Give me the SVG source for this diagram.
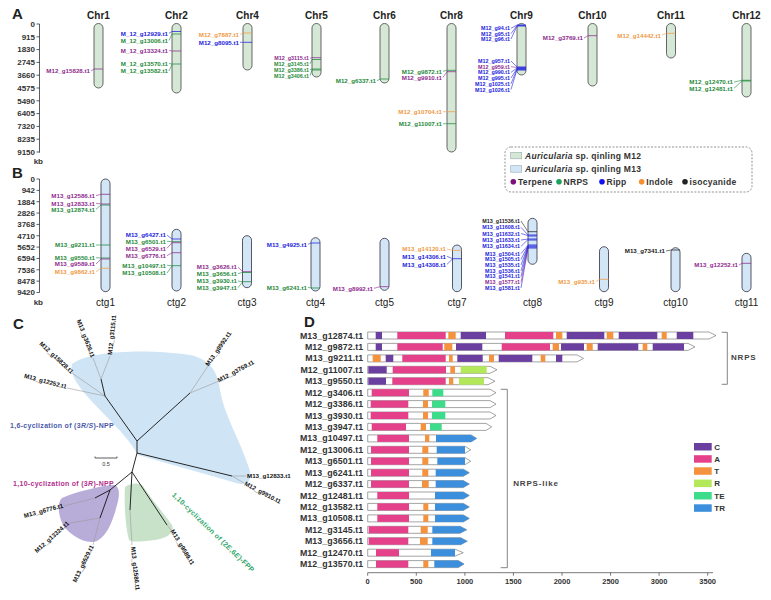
<svg xmlns="http://www.w3.org/2000/svg" width="771" height="600" viewBox="0 0 771 600">
<style>
text{font-family:"Liberation Sans",Arial,sans-serif}
.pl{font-size:15px;font-weight:bold;fill:#222}
.ct{font-size:10px;font-weight:bold;fill:#222;text-anchor:middle}
.cc{font-size:10px;fill:#222;text-anchor:middle}
.ax{font-size:8px;font-weight:bold;fill:#333;text-anchor:end}
.g{font-size:6.2px;font-weight:bold;text-anchor:end}
.gs{font-size:5.4px}
.cg{fill:#d5e8d6;stroke:#555;stroke-width:0.9}
.cb{fill:#d3e6f6;stroke:#445;stroke-width:0.9}
.cT{fill:#8e2a8e}.cN{fill:#1f8a3a}.cR{fill:#2323dd}.cI{fill:#f09a45}.cK{fill:#222}
.sT{stroke:#8e2a8e}.sN{stroke:#1f8a3a}.sR{stroke:#2323dd}.sI{stroke:#f09a45}.sK{stroke:#222}
.ld{stroke-width:0.6;fill:none}
.bd{stroke-width:0.9;fill:none;opacity:0.85}
.axl{stroke:#333;stroke-width:0.8;fill:none}
.lg{font-size:8.5px;font-weight:bold;fill:#333;letter-spacing:0.3px}
.tl{font-size:6.2px;font-weight:bold;fill:#111}
.br{stroke:#111;stroke-width:0.9;fill:none}
.lf{stroke:#9a9a9a;stroke-width:0.6;fill:none}
.dl{font-size:8.8px;font-weight:bold;fill:#333;text-anchor:end;letter-spacing:0.1px}
.ob{fill:#fff;stroke:#666;stroke-width:0.6}
.C{fill:#6b3fa0}.A{fill:#e5418b}.T{fill:#f5923d}.R{fill:#b3e85a}.E{fill:#3ddc8b}.TR{fill:#3b8fdc}
.dt{font-size:8px;font-weight:bold;fill:#333}
</style>

<!-- ================= Panel A ================= -->
<text class="pl" x="12" y="19">A</text>
<g id="axisA">
<path class="axl" d="M39.5 24V152.7M36.5 24H39.5M36.5 36.8H39.5M36.5 49.6H39.5M36.5 62.4H39.5M36.5 75.2H39.5M36.5 88H39.5M36.5 100.8H39.5M36.5 113.6H39.5M36.5 126.4H39.5M36.5 139.2H39.5M36.5 152H39.5"/>
<text class="ax" x="35" y="26.8">0</text>
<text class="ax" x="35" y="39.6">915</text>
<text class="ax" x="35" y="52.4">1830</text>
<text class="ax" x="35" y="65.2">2745</text>
<text class="ax" x="35" y="78">3660</text>
<text class="ax" x="35" y="90.8">4575</text>
<text class="ax" x="35" y="103.6">5490</text>
<text class="ax" x="35" y="116.4">6405</text>
<text class="ax" x="35" y="129.2">7320</text>
<text class="ax" x="35" y="142">8235</text>
<text class="ax" x="35" y="154.8">9150</text>
<text class="ax" x="43" y="164">kb</text>
</g>

<g id="chr1"><text class="ct" x="98.5" y="19">Chr1</text><rect class="cg" x="94" y="23.5" width="9" height="64.5" rx="4.5"/>
<path class="bd sT" d="M94 69h9"/><path class="ld sT" d="M91 71L94 69"/><text class="g cT" x="90" y="73.2">M12_g15828.t1</text></g>

<g id="chr2"><text class="ct" x="176.5" y="19">Chr2</text><rect class="cg" x="172" y="23.5" width="9" height="69.5" rx="4.5"/>
<path class="bd sR" d="M172 31.5h9"/><path class="bd sN" d="M172 34h9"/><path class="bd sT" d="M172 51h9"/><path class="bd sN" d="M172 64h9"/>
<path class="ld sR" d="M169 33.3L172 31.5"/><path class="ld sN" d="M169 40.5L172 34"/><path class="ld sT" d="M169 50.5L172 51"/><path class="ld sN" d="M169 63.5L172 64"/><path class="ld sN" d="M169 71L172 64.5"/>
<text class="g cR" x="168" y="35.5">M_12_g12929.t1</text>
<text class="g cN" x="168" y="42.7">M_12_g13006.t1</text>
<text class="g cT" x="168" y="52.7">M_12_g13324.t1</text>
<text class="g cN" x="168" y="65.7">M_12_g13570.t1</text>
<text class="g cN" x="168" y="73.2">M_12_g13582.t1</text></g>

<g id="chr4"><text class="ct" x="247.5" y="19">Chr4</text><rect class="cg" x="243" y="23.5" width="9" height="46.5" rx="4.5"/>
<path class="bd sI" d="M243 33h9"/><path class="bd sR" d="M243 42.3h9"/>
<path class="ld sI" d="M240 34.5L243 33"/><path class="ld sR" d="M240 42.3L243 42.3"/>
<text class="g cI" x="239" y="36.7">M12_g7887.t1</text>
<text class="g cR" x="239" y="44.5">M12_g8095.t1</text></g>

<g id="chr5"><text class="ct" x="316.5" y="19">Chr5</text><rect class="cg" x="312" y="23.5" width="9" height="53.5" rx="4.5"/>
<path class="bd sT" d="M312 57.7h9"/><path class="bd sN" d="M312 59.5h9"/><path class="bd sN" d="M312 69h9"/><path class="bd sN" d="M312 70h9"/>
<path class="ld sT" d="M310 58.3L312 57.7"/><path class="ld sN" d="M310 63.9L312 59.5"/><path class="ld sN" d="M310 69.7L312 69"/><path class="ld sN" d="M310 75.7L312 70"/>
<text class="g gs cT" x="309" y="60">M12_g3115.t1</text>
<text class="g gs cN" x="309" y="65.8">M12_g3145.t1</text>
<text class="g gs cN" x="309" y="71.6">M12_g3386.t1</text>
<text class="g gs cN" x="309" y="77.6">M12_g3406.t1</text></g>

<g id="chr6"><text class="ct" x="384.5" y="19">Chr6</text><rect class="cg" x="380" y="23.5" width="9" height="59.5" rx="4.5"/>
<path class="bd sN" d="M380 79h9"/><path class="ld sN" d="M377 80.7L380 79"/>
<text class="g cN" x="376" y="82.9">M12_g6337.t1</text></g>

<g id="chr8"><text class="ct" x="451.5" y="19">Chr8</text><rect class="cg" x="447" y="23.5" width="9" height="128.5" rx="4.5"/>
<path class="bd sN" d="M447 70.3h9"/><path class="bd sT" d="M447 71.7h9"/><path class="bd sI" d="M447 111.7h9"/><path class="bd sN" d="M447 123.7h9"/>
<path class="ld sN" d="M443 71.3L447 70.3"/><path class="ld sT" d="M443 77.3L447 71.7"/><path class="ld sI" d="M443 111.7L447 111.7"/><path class="ld sN" d="M443 123.7L447 123.7"/>
<text class="g cN" x="442" y="73.5">M12_g9872.t1</text>
<text class="g cT" x="442" y="79.5">M12_g9910.t1</text>
<text class="g cI" x="442" y="113.9">M12_g10704.t1</text>
<text class="g cN" x="442" y="125.9">M12_g11007.t1</text></g>

<g id="chr9"><text class="ct" x="521.5" y="19">Chr9</text><rect class="cg" x="517" y="23.5" width="9" height="51.5" rx="4.5"/>
<path class="bd sR" d="M517 25h9M517 26h9M517 67h9M517 68h9M517 69h9M517 70h9" style="stroke-width:1.2"/>
<path class="ld sR" d="M511 28.3L517 25M511 33.7L517 25.5M511 39L517 26M511 61L517 67M511 72.4L517 68M511 78L517 68.5M511 83.8L517 69M511 89.5L517 69.5"/>
<path class="ld sT" d="M511 66.7L517 67.5"/>
<text class="g gs cR" x="510" y="30.2">M12_g94.t1</text>
<text class="g gs cR" x="510" y="35.6">M12_g95.t1</text>
<text class="g gs cR" x="510" y="41">M12_g96.t1</text>
<text class="g gs cR" x="510" y="63">M12_g957.t1</text>
<text class="g gs cT" x="510" y="68.7">M12_g959.t1</text>
<text class="g gs cR" x="510" y="74.4">M12_g990.t1</text>
<text class="g gs cR" x="510" y="80.1">M12_g995.t1</text>
<text class="g gs cR" x="510" y="85.8">M12_g1025.t1</text>
<text class="g gs cR" x="510" y="91.5">M12_g1026.t1</text></g>

<g id="chr10"><text class="ct" x="592.5" y="19">Chr10</text><rect class="cg" x="588" y="23.5" width="9" height="62.5" rx="4.5"/>
<path class="bd sT" d="M588 35.7h9"/><path class="ld sT" d="M584 38L588 35.7"/>
<text class="g cT" x="583" y="40.2">M12_g3769.t1</text></g>

<g id="chr11"><text class="ct" x="671" y="19">Chr11</text><rect class="cg" x="666.5" y="23.5" width="9" height="34.5" rx="4.5"/>
<path class="bd sI" d="M666.5 33.3h9"/><path class="ld sI" d="M662 35L666.5 33.3"/>
<text class="g cI" x="661" y="37.5">M12_g14442.t1</text></g>

<g id="chr12"><text class="ct" x="746.5" y="19">Chr12</text><rect class="cg" x="742" y="23.5" width="9" height="73.5" rx="4.5"/>
<path class="bd sN" d="M742 80.3h9"/><path class="bd sN" d="M742 81h9"/>
<path class="ld sN" d="M734 82L742 80.3M734 88.3L742 81"/>
<text class="g cN" x="733" y="84.2">M12_g12470.t1</text>
<text class="g cN" x="733" y="90.5">M12_g12481.t1</text></g>

<!-- legend -->
<g id="legendAB">
<rect x="505" y="147" width="247" height="45" rx="6" fill="#fff" stroke="#777" stroke-width="0.8" stroke-dasharray="2 1.5"/>
<rect x="510.7" y="152.3" width="11" height="6.5" fill="#d5e8d6" stroke="#9aa" stroke-width="0.6"/>
<text class="lg" x="525" y="158.7"><tspan font-style="italic">Auricularia</tspan> sp. qinling M12</text>
<rect x="510.7" y="165.7" width="11" height="6.5" fill="#d3e6f6" stroke="#9ab" stroke-width="0.6"/>
<text class="lg" x="525" y="172"><tspan font-style="italic">Auricularia</tspan> sp. qinling M13</text>
<circle cx="513.3" cy="181.7" r="2.8" fill="#7b0f7b"/><text class="lg" x="518" y="184.7">Terpene</text>
<circle cx="559" cy="181.7" r="2.8" fill="#1aa060"/><text class="lg" x="563.5" y="184.7">NRPS</text>
<circle cx="602" cy="181.7" r="2.8" fill="#1010f0"/><text class="lg" x="606.5" y="184.7">Ripp</text>
<circle cx="641.7" cy="181.7" r="2.8" fill="#f59031"/><text class="lg" x="646.3" y="184.7">Indole</text>
<circle cx="685" cy="181.7" r="2.8" fill="#222"/><text class="lg" x="689.5" y="184.7">isocyanide</text>
</g>

<!-- ================= Panel B ================= -->
<text class="pl" x="12" y="178">B</text>
<g id="axisB">
<path class="axl" d="M39.5 179V292.5M36.5 179H39.5M36.5 190.35H39.5M36.5 201.7H39.5M36.5 213.05H39.5M36.5 224.4H39.5M36.5 235.75H39.5M36.5 247.1H39.5M36.5 258.45H39.5M36.5 269.8H39.5M36.5 281.15H39.5M36.5 292.5H39.5"/>
<text class="ax" x="35" y="181.8">0</text>
<text class="ax" x="35" y="193.15">942</text>
<text class="ax" x="35" y="204.5">1884</text>
<text class="ax" x="35" y="215.85">2826</text>
<text class="ax" x="35" y="227.2">3768</text>
<text class="ax" x="35" y="238.55">4710</text>
<text class="ax" x="35" y="249.9">5652</text>
<text class="ax" x="35" y="261.25">6594</text>
<text class="ax" x="35" y="272.6">7536</text>
<text class="ax" x="35" y="283.95">8478</text>
<text class="ax" x="35" y="295.3">9420</text>
<text class="ax" x="43" y="305">kb</text>
</g>

<g id="ctg1"><rect class="cb" x="101" y="179" width="9" height="112.7" rx="4.5"/><text class="cc" x="105.5" y="306">ctg1</text>
<path class="bd sT" d="M101 194.3h9"/><path class="bd sT" d="M101 204h9"/><path class="bd sN" d="M101 205h9"/><path class="bd sN" d="M101 245h9"/><path class="bd sN" d="M101 258h9"/><path class="bd sT" d="M101 259h9"/><path class="bd sI" d="M101 268.3h9"/>
<path class="ld sT" d="M96 195.7L101 194.3M96 203.3L101 204M96 264L101 259"/><path class="ld sN" d="M96 209.3L101 205M96 245L101 245M96 257.7L101 258"/><path class="ld sI" d="M96 271.7L101 268.3"/>
<text class="g cT" x="95" y="197.9">M13_g12586.t1</text>
<text class="g cT" x="95" y="205.5">M13_g12833.t1</text>
<text class="g cN" x="95" y="211.5">M13_g12874.t1</text>
<text class="g cN" x="95" y="247.2">M13_g9211.t1</text>
<text class="g cN" x="95" y="259.9">M13_g9550.t1</text>
<text class="g cT" x="95" y="266.2">M13_g9589.t1</text>
<text class="g cI" x="95" y="273.9">M13_g9862.t1</text></g>

<g id="ctg2"><rect class="cb" x="172" y="229.3" width="9" height="61.7" rx="4.5"/><text class="cc" x="176.5" y="306">ctg2</text>
<path class="bd sR" d="M172 239h9"/><path class="bd sN" d="M172 241.7h9"/><path class="bd sT" d="M172 242.7h9"/><path class="bd sT" d="M172 252.7h9"/><path class="bd sN" d="M172 265.7h9"/>
<path class="ld sR" d="M167 235L172 239"/><path class="ld sN" d="M167 241.3L172 241.7M167 265.3L172 265.7M167 273L172 266"/><path class="ld sT" d="M167 248.3L172 242.7M167 255.7L172 252.7"/>
<text class="g cR" x="166" y="237.2">M13_g6427.t1</text>
<text class="g cN" x="166" y="243.5">M13_g6501.t1</text>
<text class="g cT" x="166" y="250.5">M13_g6529.t1</text>
<text class="g cT" x="166" y="257.9">M13_g6776.t1</text>
<text class="g cN" x="166" y="267.5">M13_g10497.t1</text>
<text class="g cN" x="166" y="275.2">M13_g10508.t1</text></g>

<g id="ctg3"><rect class="cb" x="242.5" y="235.7" width="9" height="52" rx="4.5"/><text class="cc" x="247" y="306">ctg3</text>
<path class="bd sT" d="M242.5 271.7h9"/><path class="bd sN" d="M242.5 272.5h9"/><path class="bd sN" d="M242.5 281.7h9"/>
<path class="ld sT" d="M238 267L242.5 271.7"/><path class="ld sN" d="M238 273.7L242.5 272.3M238 281L242.5 281.7M238 287.7L242.5 282"/>
<text class="g cT" x="237" y="269.2">M13_g3626.t1</text>
<text class="g cN" x="237" y="275.9">M13_g3656.t1</text>
<text class="g cN" x="237" y="283.2">M13_g3930.t1</text>
<text class="g cN" x="237" y="289.9">M13_g3947.t1</text></g>

<g id="ctg4"><rect class="cb" x="311" y="237.7" width="9" height="53.3" rx="4.5"/><text class="cc" x="315.5" y="306">ctg4</text>
<path class="bd sR" d="M311 243h9"/><path class="bd sN" d="M311 288h9"/>
<path class="ld sR" d="M308 244.3L311 243"/><path class="ld sN" d="M308 287.3L311 288"/>
<text class="g cR" x="307" y="246.5">M13_g4925.t1</text>
<text class="g cN" x="307" y="289.5">M13_g6241.t1</text></g>

<g id="ctg5"><rect class="cb" x="380" y="238.3" width="9" height="52" rx="4.5"/><text class="cc" x="384.5" y="306">ctg5</text>
<path class="bd sT" d="M380 286.7h9"/><path class="ld sT" d="M374 288.3L380 286.7"/>
<text class="g cT" x="373" y="290.5">M13_g8992.t1</text></g>

<g id="ctg7"><rect class="cb" x="452.5" y="245" width="9" height="46.7" rx="4.5"/><text class="cc" x="457" y="306">ctg7</text>
<path class="bd sI" d="M452.5 250.3h9"/><path class="bd sR" d="M452.5 258.7h9"/>
<path class="ld sI" d="M447 249L452.5 250.3"/><path class="ld sR" d="M447 256.3L452.5 258.7M447 264.3L452.5 259"/>
<text class="g cI" x="446" y="251.2">M13_g14120.t1</text>
<text class="g cR" x="446" y="258.5">M13_g14306.t1</text>
<text class="g cR" x="446" y="266.5">M13_g14308.t1</text></g>

<g id="ctg8"><rect class="cb" x="528" y="218.3" width="9" height="46" rx="4.5"/><text class="cc" x="532.5" y="306">ctg8</text>
<path class="bd sK" d="M528 231.7h9"/><path class="bd sR" d="M528 235h9M528 236h9M528 239h9M528 240h9M528 245h9M528 246h9M528 247h9M528 248h9" style="stroke-width:1"/>
<path class="ld sK" d="M521 221L528 231.7"/>
<path class="ld sR" d="M521 227.3L528 235M521 233.5L528 235.7M521 240L528 239M521 246.3L528 239.5M521 253.7L528 245M521 259.4L528 245.5M521 265.1L528 246M521 270.8L528 246.5M521 276.5L528 247M521 287.9L528 248"/>
<path class="ld sT" d="M521 282.2L528 247.5"/>
<text class="g gs cK" x="520" y="223">M13_g11536.t1</text>
<text class="g gs cR" x="520" y="229.3">M13_g11608.t1</text>
<text class="g gs cR" x="520" y="235.5">M13_g11632.t1</text>
<text class="g gs cR" x="520" y="242">M13_g11633.t1</text>
<text class="g gs cR" x="520" y="248.3">M13_g11634.t1</text>
<text class="g gs cR" x="520" y="255.6">M13_g1504.t1</text>
<text class="g gs cR" x="520" y="261.3">M13_g1505.t1</text>
<text class="g gs cR" x="520" y="267">M13_g1535.t1</text>
<text class="g gs cR" x="520" y="272.7">M13_g1536.t1</text>
<text class="g gs cR" x="520" y="278.4">M13_g1541.t1</text>
<text class="g gs cT" x="520" y="284.1">M13_g1577.t1</text>
<text class="g gs cR" x="520" y="289.8">M13_g1581.t1</text></g>

<g id="ctg9"><rect class="cb" x="599.5" y="246.7" width="9" height="45" rx="4.5"/><text class="cc" x="604" y="306">ctg9</text>
<path class="bd sI" d="M599.5 279.3h9"/><path class="ld sI" d="M596 281.7L599.5 279.3"/>
<text class="g cI" x="595" y="283.9">M13_g935.t1</text></g>

<g id="ctg10"><rect class="cb" x="671" y="247.7" width="9" height="44" rx="4.5"/><text class="cc" x="675.5" y="306">ctg10</text>
<path class="bd sK" d="M671 250h9"/><path class="ld sK" d="M666 251L671 250"/>
<text class="g cK" x="665" y="253.2">M13_g7341.t1</text></g>

<g id="ctg11"><rect class="cb" x="742" y="253.3" width="9" height="38.4" rx="4.5"/><text class="cc" x="746.5" y="306">ctg11</text>
<path class="bd sT" d="M742 263.3h9"/><path class="ld sT" d="M739 265L742 263.3"/>
<text class="g cT" x="738" y="267.2">M13_g12252.t1</text></g>

<!-- ================= Panel C ================= -->
<text class="pl" x="13" y="329">C</text>
<g id="clades">
<path d="M72 364C90 350 150 349 190 355C210 359 218 372 220 390C224 415 240 440 249 468C253 480 248 487 236 483C205 474 170 464 138 455C130 440 115 425 100 410C88 397 68 378 72 364Z" fill="#cfe4f5"/>
<path d="M62 498C75 492 100 486 113 485C120 485 120 495 117 505C113 520 108 535 97 541C85 545 70 535 63 525C58 515 57 502 62 498Z" fill="#b8acd9"/>
<path d="M125 487C130 483 140 482 143 486C152 500 165 515 172 525C175 532 168 538 155 540C145 541 133 543 129 540C125 525 124 500 125 487Z" fill="#c8e2c9"/>
</g>
<g id="connectors">
<path class="lf" d="M101 379L93 358M101 379L110 356M105 396L72 373M105 396L67 388M190 393L208 366M190 393L219 381M232 476L246 476M232 476L244 483M95 498L64 506M100 518L70 523M100 518L93 545M130 510L132 545M167 525L171 530"/>
<path class="br" d="M137 441L105 396M137 441L190 393M137 441L137 453M137 453L232 476M137 453L132 472M105 396L101 379M132 472L110 490M110 490L95 498M110 490L100 518M132 472L130 510M132 472L167 525"/>
</g>
<g id="treeLabels">
<text class="tl" text-anchor="end" transform="translate(66,389) rotate(15)">M13_g12252.t1</text>
<text class="tl" text-anchor="end" transform="translate(71,374) rotate(43)">M12_g15828.t1</text>
<text class="tl" text-anchor="end" transform="translate(91,358) rotate(69)">M13_g3626.t1</text>
<text class="tl" transform="translate(112,355) rotate(-84)">M12_g3115.t1</text>
<text class="tl" transform="translate(208.6,366.5) rotate(-55)">M13_g8992.t1</text>
<text class="tl" transform="translate(219,382.5) rotate(-28)">M12_g3769.t1</text>
<text class="tl" transform="translate(247,478.2)">M13_g12833.t1</text>
<text class="tl" transform="translate(244,485) rotate(28)">M12_g9910.t1</text>
<text class="tl" text-anchor="end" transform="translate(63.5,507.5) rotate(-15)">M13_g6776.t1</text>
<text class="tl" text-anchor="end" transform="translate(69.5,524) rotate(-42)">M12_g13324.t1</text>
<text class="tl" text-anchor="end" transform="translate(94,546.5) rotate(-64)">M13_g6529.t1</text>
<text class="tl" transform="translate(131,547) rotate(84)">M13_g12586.t1</text>
<text class="tl" transform="translate(170.3,531) rotate(59)">M13_g9589.t1</text>
</g>
<g id="cladeLabels">
<text x="10" y="427.5" style="font-size:7px;font-weight:bold;letter-spacing:0.3px;fill:#4a5aa8">1,6-cyclization of (3<tspan font-style="italic">R/S</tspan>)-NPP</text>
<text x="13" y="485.5" style="font-size:7px;font-weight:bold;letter-spacing:0.3px;fill:#b0308e">1,10-cyclization of (3<tspan font-style="italic">R</tspan>)-NPP</text>
<text transform="translate(171.6,495.4) rotate(44)" style="font-size:7px;font-weight:bold;letter-spacing:0.3px;fill:#2fa86a">1,10-cyclization of (2<tspan font-style="italic">E</tspan>,6<tspan font-style="italic">E</tspan>)-FPP</text>
</g>
<g id="scalebar">
<path d="M95 456.5V458H117V456.5" stroke="#333" stroke-width="0.8" fill="none"/>
<text x="106" y="466" text-anchor="middle" style="font-size:5.5px;fill:#333">0.5</text>
</g>

<!-- ================= Panel D ================= -->
<text class="pl" x="304" y="327">D</text>
<g id="domains">
<g id="d0" transform="translate(0,332)"><text class="dl" x="363.3" y="6.5">M13_g12874.t1</text><polygon class="ob" points="367.7,0 709,0 716,3.5 709,7 367.7,7"/>
<rect class="C" x="375.7" y="0" width="6.3" height="7"/><rect class="A" x="397.3" y="0" width="48.4" height="7"/><rect class="T" x="448.3" y="0" width="7.4" height="7"/><rect class="C" x="460.7" y="0" width="25.3" height="7"/><rect class="A" x="505" y="0" width="48.3" height="7"/><rect class="T" x="556" y="0" width="6.3" height="7"/><rect class="C" x="566.7" y="0" width="37.6" height="7"/><rect class="T" x="606.7" y="0" width="6.6" height="7"/><rect class="C" x="618.7" y="0" width="38.6" height="7"/><rect class="T" x="661.7" y="0" width="5" height="7"/><rect class="C" x="676.7" y="0" width="16.6" height="7"/></g>
<g id="d1" transform="translate(0,343.4)"><text class="dl" x="363.3" y="6.5">M12_g9872.t1</text><polygon class="ob" points="367.7,0 688,0 695,3.5 688,7 367.7,7"/>
<rect class="C" x="375.7" y="0" width="6.3" height="7"/><rect class="A" x="397.3" y="0" width="45.4" height="7"/><rect class="T" x="444.3" y="0" width="8" height="7"/><rect class="C" x="456" y="0" width="26.3" height="7"/><rect class="A" x="501.7" y="0" width="48.3" height="7"/><rect class="T" x="552.7" y="0" width="6.3" height="7"/><rect class="C" x="561" y="0" width="23" height="7"/><rect class="T" x="586.7" y="0" width="6" height="7"/><rect class="C" x="597.7" y="0" width="40.6" height="7"/><rect class="T" x="642.7" y="0" width="4.6" height="7"/><rect class="C" x="652.7" y="0" width="31.3" height="7"/></g>
<g id="d2" transform="translate(0,354.9)"><text class="dl" x="363.3" y="6.5">M13_g9211.t1</text><polygon class="ob" points="367.7,0 577,0 583.5,3.5 577,7 367.7,7"/>
<rect class="T" x="372.7" y="0" width="8" height="7"/><rect class="C" x="385.7" y="0" width="7.6" height="7"/><rect class="A" x="402.3" y="0" width="43.4" height="7"/><rect class="T" x="449" y="0" width="3.7" height="7"/><rect class="C" x="457.3" y="0" width="25.4" height="7"/><rect class="T" x="489" y="0" width="5" height="7"/><rect class="C" x="498.7" y="0" width="33.6" height="7"/><rect class="T" x="540.7" y="0" width="4.6" height="7"/><rect class="C" x="556" y="0" width="6.3" height="7"/></g>
<g id="d3" transform="translate(0,366.3)"><text class="dl" x="363.3" y="6.5">M12_g11007.t1</text><polygon class="ob" points="367.7,0 490,0 497,3.5 490,7 367.7,7"/>
<rect class="C" x="368.3" y="0" width="18.4" height="7"/><rect class="A" x="392.7" y="0" width="53.3" height="7"/><rect class="T" x="450.3" y="0" width="4.7" height="7"/><rect class="R" x="460.7" y="0" width="26" height="7"/></g>
<g id="d4" transform="translate(0,377.7)"><text class="dl" x="363.3" y="6.5">M13_g9550.t1</text><polygon class="ob" points="367.7,0 488,0 495,3.5 488,7 367.7,7"/>
<rect class="C" x="368.3" y="0" width="17.7" height="7"/><rect class="A" x="392.3" y="0" width="53.4" height="7"/><rect class="T" x="449" y="0" width="4.3" height="7"/><rect class="R" x="459" y="0" width="25" height="7"/></g>
<g id="d5" transform="translate(0,389.2)"><text class="dl" x="363.3" y="6.5">M12_g3406.t1</text><polygon class="ob" points="367.7,0 490,0 496,3.5 490,7 367.7,7"/>
<rect class="A" x="371.7" y="0" width="37.3" height="7"/><rect class="T" x="423.3" y="0" width="5.4" height="7"/><rect class="E" x="432.3" y="0" width="11" height="7"/></g>
<g id="d6" transform="translate(0,400.6)"><text class="dl" x="363.3" y="6.5">M12_g3386.t1</text><polygon class="ob" points="367.7,0 490,0 496,3.5 490,7 367.7,7"/>
<rect class="A" x="370.7" y="0" width="37.6" height="7"/><rect class="T" x="423" y="0" width="5" height="7"/><rect class="E" x="432" y="0" width="13.3" height="7"/></g>
<g id="d7" transform="translate(0,412)"><text class="dl" x="363.3" y="6.5">M13_g3930.t1</text><polygon class="ob" points="367.7,0 490,0 496,3.5 490,7 367.7,7"/>
<rect class="A" x="370.7" y="0" width="37.6" height="7"/><rect class="T" x="423" y="0" width="5" height="7"/><rect class="E" x="432" y="0" width="13.3" height="7"/></g>
<g id="d8" transform="translate(0,423.4)"><text class="dl" x="363.3" y="6.5">M13_g3947.t1</text><polygon class="ob" points="367.7,0 486,0 491.7,3.5 486,7 367.7,7"/>
<rect class="A" x="371.7" y="0" width="34.3" height="7"/><rect class="T" x="420.7" y="0" width="5.3" height="7"/><rect class="E" x="430" y="0" width="11.7" height="7"/></g>
<g id="d9" transform="translate(0,434.9)"><text class="dl" x="363.3" y="6.5">M13_g10497.t1</text><polygon class="ob" points="367.7,0 471,0 476.7,3.5 471,7 367.7,7"/>
<rect class="A" x="377.3" y="0" width="31.7" height="7"/><rect class="T" x="425" y="0" width="4.3" height="7"/><polygon class="TR" points="436,0 471,0 476.7,3.5 471,7 436,7"/></g>
<g id="d10" transform="translate(0,446.3)"><text class="dl" x="363.3" y="6.5">M12_g13006.t1</text><polygon class="ob" points="367.7,0 465,0 470.7,3.5 465,7 367.7,7"/>
<rect class="A" x="371" y="0" width="38" height="7"/><rect class="T" x="422.3" y="0" width="6" height="7"/><rect class="TR" x="436.7" y="0" width="28.3" height="7"/></g>
<g id="d11" transform="translate(0,457.7)"><text class="dl" x="363.3" y="6.5">M13_g6501.t1</text><polygon class="ob" points="367.7,0 465,0 470.7,3.5 465,7 367.7,7"/>
<rect class="A" x="371" y="0" width="38" height="7"/><rect class="T" x="422.3" y="0" width="6" height="7"/><rect class="TR" x="437.3" y="0" width="27.7" height="7"/></g>
<g id="d12" transform="translate(0,469.2)"><text class="dl" x="363.3" y="6.5">M13_g6241.t1</text><polygon class="ob" points="367.7,0 463.3,0 469.3,3.5 463.3,7 367.7,7"/>
<rect class="A" x="371" y="0" width="38" height="7"/><rect class="T" x="422.3" y="0" width="6" height="7"/><polygon class="TR" points="435.7,0 463.3,0 469.3,3.5 463.3,7 435.7,7"/></g>
<g id="d13" transform="translate(0,480.6)"><text class="dl" x="363.3" y="6.5">M12_g6337.t1</text><polygon class="ob" points="367.7,0 463.3,0 469.3,3.5 463.3,7 367.7,7"/>
<rect class="A" x="371" y="0" width="38" height="7"/><rect class="T" x="422" y="0" width="6.7" height="7"/><polygon class="TR" points="435.7,0 463.3,0 469.3,3.5 463.3,7 435.7,7"/></g>
<g id="d14" transform="translate(0,492)"><text class="dl" x="363.3" y="6.5">M12_g12481.t1</text><polygon class="ob" points="367.7,0 463.3,0 469.3,3.5 463.3,7 367.7,7"/>
<rect class="A" x="377.3" y="0" width="31.7" height="7"/><polygon class="TR" points="435,0 463.3,0 469.3,3.5 463.3,7 435,7"/></g>
<g id="d15" transform="translate(0,503.4)"><text class="dl" x="363.3" y="6.5">M12_g13582.t1</text><polygon class="ob" points="367.7,0 463.3,0 469.3,3.5 463.3,7 367.7,7"/>
<rect class="A" x="377.3" y="0" width="31.7" height="7"/><rect class="T" x="423.3" y="0" width="5" height="7"/><polygon class="TR" points="435,0 463.3,0 469.3,3.5 463.3,7 435,7"/></g>
<g id="d16" transform="translate(0,514.9)"><text class="dl" x="363.3" y="6.5">M13_g10508.t1</text><polygon class="ob" points="367.7,0 463.3,0 469.3,3.5 463.3,7 367.7,7"/>
<rect class="A" x="377.3" y="0" width="31.7" height="7"/><rect class="T" x="423.3" y="0" width="5" height="7"/><polygon class="TR" points="435,0 463.3,0 469.3,3.5 463.3,7 435,7"/></g>
<g id="d17" transform="translate(0,526.3)"><text class="dl" x="363.3" y="6.5">M12_g3145.t1</text><polygon class="ob" points="367.7,0 460,0 466.7,3.5 460,7 367.7,7"/>
<rect class="A" x="368.7" y="0" width="39.6" height="7"/><rect class="T" x="420.7" y="0" width="7" height="7"/><polygon class="TR" points="432.3,0 460,0 466.7,3.5 460,7 432.3,7"/></g>
<g id="d18" transform="translate(0,537.7)"><text class="dl" x="363.3" y="6.5">M13_g3656.t1</text><polygon class="ob" points="367.7,0 460.7,0 467.3,3.5 460.7,7 367.7,7"/>
<rect class="A" x="368.7" y="0" width="39.6" height="7"/><rect class="T" x="420" y="0" width="7.7" height="7"/><polygon class="TR" points="432.3,0 460.7,0 467.3,3.5 460.7,7 432.3,7"/></g>
<g id="d19" transform="translate(0,549.2)"><text class="dl" x="363.3" y="6.5">M12_g12470.t1</text><polygon class="ob" points="367.7,0 455,0 463.3,3.5 455,7 367.7,7"/>
<rect class="A" x="376" y="0" width="23" height="7"/><rect class="TR" x="431" y="0" width="24" height="7"/></g>
<g id="d20" transform="translate(0,560.6)"><text class="dl" x="363.3" y="6.5">M12_g13570.t1</text><polygon class="ob" points="367.7,0 458.3,0 464,3.5 458.3,7 367.7,7"/>
<rect class="A" x="376" y="0" width="32.3" height="7"/><rect class="T" x="423.3" y="0" width="5" height="7"/><polygon class="TR" points="434.3,0 458.3,0 464,3.5 458.3,7 434.3,7"/></g>
</g>

<g id="axisD">
<path d="M367.7 572.7H713M367.7 572.7v3M416.3 572.7v3M464.9 572.7v3M513.4 572.7v3M562 572.7v3M610.6 572.7v3M659.1 572.7v3M707.7 572.7v3" stroke="#555" stroke-width="0.8" fill="none"/>
<g class="dt" text-anchor="middle" style="font-size:7.5px">
<text x="367.7" y="584">0</text><text x="416.3" y="584">500</text><text x="464.9" y="584">1000</text><text x="513.4" y="584">1500</text><text x="562" y="584">2000</text><text x="610.6" y="584">2500</text><text x="659.1" y="584">3000</text><text x="707.7" y="584">3500</text>
</g>
</g>

<g id="brackets">
<path d="M721.7 332.3H727.3V384.3H721.7" stroke="#666" stroke-width="0.8" fill="none"/>
<text x="731" y="359.5" style="font-size:8px;font-weight:bold;fill:#444;letter-spacing:0.8px">NRPS</text>
<path d="M500.7 389.3H507.3V567.7H500.7" stroke="#666" stroke-width="0.8" fill="none"/>
<text x="513.3" y="486" style="font-size:8px;font-weight:bold;fill:#444;letter-spacing:0.8px">NRPS-like</text>
</g>

<g id="legendD">
<rect class="C" x="694" y="443" width="17.7" height="7.5"/><text class="dt" x="714.3" y="449.7">C</text>
<rect class="A" x="694" y="455.2" width="17.7" height="7.5"/><text class="dt" x="714.3" y="461.9">A</text>
<rect class="T" x="694" y="467.3" width="17.7" height="7.5"/><text class="dt" x="714.3" y="474">T</text>
<rect class="R" x="694" y="479.6" width="17.7" height="7.5"/><text class="dt" x="714.3" y="486.3">R</text>
<rect class="E" x="694" y="492" width="17.7" height="7.5"/><text class="dt" x="714.3" y="498.7">TE</text>
<rect class="TR" x="694" y="504.3" width="17.7" height="7.5"/><text class="dt" x="714.3" y="511">TR</text>
</g>
</svg>
